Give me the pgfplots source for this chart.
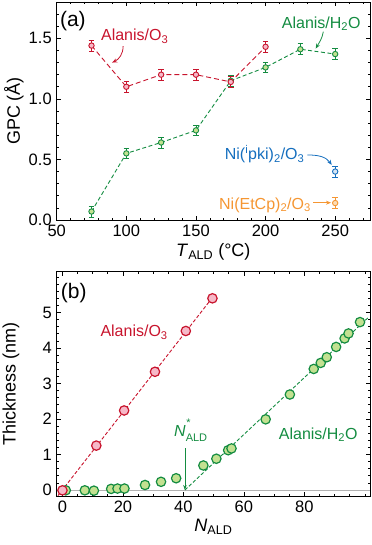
\documentclass[border=0pt]{standalone}
\usepackage{fontspec}
\setmainfont{Liberation Sans}
\usepackage{pgfplots}
\pgfplotsset{compat=1.18}
\usetikzlibrary{arrows.meta}

\definecolor{cred}{RGB}{200,20,45}
\definecolor{cpink}{RGB}{246,185,200}
\definecolor{cgreen}{RGB}{20,140,65}
\definecolor{clgreen}{RGB}{195,225,145}
\definecolor{cblue}{RGB}{20,110,190}
\definecolor{clblue}{RGB}{215,230,245}
\definecolor{corange}{RGB}{245,150,50}
\definecolor{clorange}{RGB}{252,220,180}

\newcommand{\annfont}{\fontsize{16bp}{18bp}\selectfont}

\pgfplotsset{
  panel/.style={
    scale only axis, width=313.3bp,
    axis line style={line width=0.9bp},
    tick style={black, line width=0.7bp},
    major tick length=4bp, minor tick length=2.3bp,
    tick align=inside,
    /pgf/number format/assume math mode=true,
    tick label style={font=\fontsize{16.5bp}{18bp}\selectfont},
    label style={font=\fontsize{18bp}{20bp}\selectfont},
    xticklabel style={yshift=-1.5bp},
    yticklabel style={xshift=-1.5bp},
    clip=false,
  },
  ebar/.style={
    error bars/.cd, y dir=both, y explicit,
    error bar style={solid, line width=0.8bp},
    error mark options={solid, rotate=90, mark size=2.8bp, line width=0.8bp},
  },
}

\begin{document}
\begin{tikzpicture}
\useasboundingbox (0,0) rectangle (372bp,545bp);

% ---- panel (a)
\begin{axis}[panel, at={(56.7bp,325bp)}, anchor=south west, height=218bp,
  xmin=50, xmax=275, ymin=0, ymax=1.8,
  xtick={50,100,...,250}, minor xtick={60,70,...,270},
  ytick={0,0.5,1,1.5}, minor ytick={0.1,0.2,...,1.75},
  yticklabel style={/pgf/number format/.cd, fixed, fixed zerofill, precision=1},
  xlabel={\textit{T}\textsubscript{ALD} (°C)}, ylabel={GPC (Å)},
  xlabel style={at={(axis description cs:0.5,0)}, anchor=center, yshift=-31.7bp},
  ylabel style={at={([xshift=-42.7bp]axis description cs:0,0.5)}, anchor=center},
]
\addplot[cgreen, line width=0.9bp, dash pattern=on 4bp off 2.5bp,
  mark=*, mark size=2.7bp, mark options={solid, fill=clgreen, line width=0.9bp}, ebar]
  table[x=t, y=g, y error=e] {
  t g e
  75 0.07 0.045
  100 0.55 0.045
  125 0.64 0.045
  150 0.74 0.045
  175 1.15 0.045
  200 1.26 0.045
  225 1.41 0.045
  250 1.37 0.045
};
\addplot[cred, line width=0.9bp, dash pattern=on 5bp off 3bp,
  mark=*, mark size=2.7bp, mark options={solid, fill=cpink, line width=0.9bp}, ebar]
  table[x=t, y=g, y error=e] {
  t g e
  75 1.44 0.045
  100 1.10 0.045
  125 1.20 0.045
  150 1.20 0.045
  175 1.14 0.045
  200 1.43 0.045
};
\addplot[cblue, line width=0.9bp, only marks,
  mark=*, mark size=2.7bp, mark options={solid, fill=clblue, line width=0.9bp}, ebar]
  table[x=t, y=g, y error=e] {
  t g e
  250 0.40 0.045
};
\addplot[corange, line width=0.9bp, only marks,
  mark=*, mark size=2.7bp, mark options={solid, fill=clorange, line width=0.9bp}, ebar]
  table[x=t, y=g, y error=e] {
  t g e
  250 0.14 0.045
};
\node[anchor=west, inner sep=0, font=\fontsize{21bp}{23bp}\selectfont] at (rel axis cs:0.010,0.913) {(a)};
\node[anchor=base, inner sep=0, text=cred, font=\annfont] at (axis cs:106,1.481) {Alanis/O\textsubscript{3}};
\draw[cred, line width=0.8bp, -{Stealth[length=5bp,width=4bp]}] (axis cs:97.7,1.435) to[out=-90,in=25] (axis cs:89.8,1.30);
\node[anchor=base, inner sep=0, text=cgreen, font=\annfont] at (axis cs:240,1.583) {Alanis/H\textsubscript{2}O};
\draw[cgreen, line width=0.8bp, -{Stealth[length=5bp,width=4bp]}] (axis cs:241.5,1.555) to[out=-100,in=60] (axis cs:236,1.415);
\node[anchor=base, inner sep=0, text=cblue, font=\annfont] at (axis cs:199.3,0.50) {Ni(\textsuperscript{i}pki)\textsubscript{2}/O\textsubscript{3}};
\draw[cblue, line width=0.8bp, -{Stealth[length=5bp,width=4bp]}] (axis cs:230,0.537) to[out=0,in=125] (axis cs:247.5,0.455);
\node[anchor=base, inner sep=0, text=corange, font=\annfont] at (axis cs:199.6,0.088) {Ni(EtCp)\textsubscript{2}/O\textsubscript{3}};
\draw[corange, line width=0.8bp, -{Stealth[length=5bp,width=4bp]}] (axis cs:234.4,0.143) -- (axis cs:247,0.143);
\end{axis}

% ---- panel (b)
\begin{axis}[panel, at={(56.7bp,49bp)}, anchor=south west, height=224.3bp,
  xmin=-1.9, xmax=101.7, ymin=-0.17, ymax=6.15,
  xtick={0,20,...,80}, minor xtick={0,5,...,100},
  ytick={0,1,...,5}, minor ytick={0,0.2,...,6.1},
  xlabel={\textit{N}\textsubscript{ALD}}, ylabel={Thickness (nm)},
  xlabel style={at={(axis description cs:0.5,0)}, anchor=center, yshift=-30.7bp},
  ylabel style={at={([xshift=-45.7bp]axis description cs:0,0.5)}, anchor=center},
]
\addplot[gray!60, line width=0.6bp] coordinates {(-1.9,0) (101.7,0)};
\addplot[cred, line width=0.9bp, dash pattern=on 3.5bp off 2bp] coordinates {(-1.5,-0.16) (50.5,5.52)};
\addplot[cgreen, line width=0.9bp, dash pattern=on 3.5bp off 2bp] coordinates {(40.5,0) (101,4.85)};
\addplot[cgreen, only marks, mark=*, mark size=4.7bp, mark options={fill=clgreen, line width=1.2bp}]
  table[x=n, y=d] {
  n d
  1.1 -0.01
  7.4 -0.01
  10.4 -0.02
  16.1 0.03
  18.2 0.04
  20.5 0.04
  27.3 0.14
  32.6 0.23
  37.6 0.33
  46.6 0.69
  50.9 0.88
  54.8 1.12
  55.9 1.17
  67.2 1.99
  75.2 2.69
  83.1 3.41
  85.4 3.58
  87.4 3.74
  90.5 4.03
  93.3 4.27
  94.6 4.41
  98.4 4.73
};
\addplot[cred, only marks, mark=*, mark size=4.7bp, mark options={fill=cpink, line width=1.2bp}]
  table[x=n, y=d] {
  n d
  0 -0.01
  11.2 1.25
  20.4 2.24
  30.6 3.33
  40.8 4.48
  49.6 5.40
};
\node[anchor=west, inner sep=0, font=\fontsize{21bp}{23bp}\selectfont] at (rel axis cs:0.013,0.905) {(b)};
\node[anchor=base, inner sep=0, text=cred, font=\annfont] at (axis cs:23.7,4.32) {Alanis/O\textsubscript{3}};
\node[anchor=base, inner sep=0, text=cgreen, font=\annfont] at (axis cs:84.6,1.43) {Alanis/H\textsubscript{2}O};
\node[anchor=base, inner sep=0, text=cgreen, font=\annfont] at (axis cs:42.4,1.50) {\textit{N}\rlap{\raisebox{0.62em}{\fontsize{11bp}{11bp}\selectfont\textit{*}}}\raisebox{-0.28em}{\fontsize{11bp}{11bp}\selectfont ALD}};
\draw[cgreen, line width=0.7bp, -{Stealth[length=5bp,width=3.5bp]}] (axis cs:40.5,1.17) -- (axis cs:40.5,0.0);
\end{axis}
\end{tikzpicture}
\end{document}
